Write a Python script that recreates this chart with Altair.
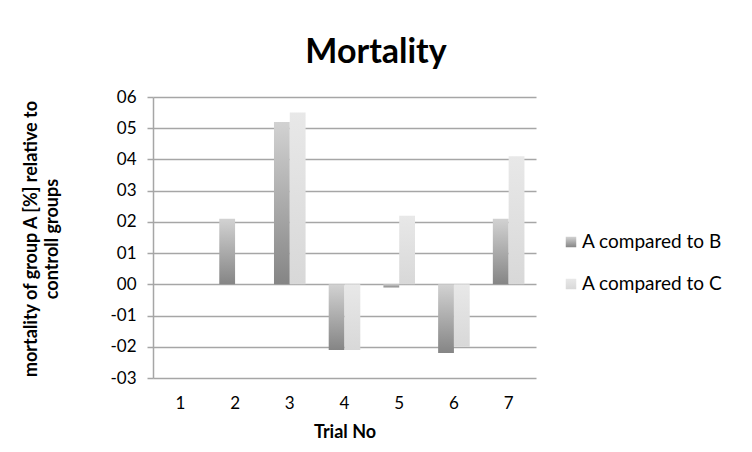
import altair as alt
import pandas as pd

# ---- data ----
trials = ["1", "2", "3", "4", "5", "6", "7"]
series_names = ["A compared to B", "A compared to C"]
vals_b = [0.0, 0.21, 0.52, -0.21, -0.01, -0.22, 0.21]
vals_c = [0.0, 0.0, 0.55, -0.21, 0.22, -0.20, 0.41]
y_ticks = [-0.3, -0.2, -0.1, 0.0, 0.1, 0.2, 0.3, 0.4, 0.5, 0.6]
title_text = "Mortality"
x_title = "Trial No"
y_title_lines = ["mortality of group A [%] relative to", "controll groups"]

FONT = "Lato"
GRID = "#a6a6a6"

grad_b = alt.Gradient(gradient="linear", x1=0, x2=0, y1=0, y2=1,
                      stops=[alt.GradientStop(color="#d2d2d2", offset=0),
                             alt.GradientStop(color="#858585", offset=1)])
grad_c = alt.Gradient(gradient="linear", x1=0, x2=0, y1=0, y2=1,
                      stops=[alt.GradientStop(color="#e8e8e8", offset=0),
                             alt.GradientStop(color="#d8d8d8", offset=1)])

df_b = pd.DataFrame({"trial": trials, "value": vals_b})
df_c = pd.DataFrame({"trial": trials, "value": vals_c})

W, H = 383, 281
BW = 15.8

x_enc = alt.X("trial:N", sort=trials,
              scale=alt.Scale(paddingInner=0, paddingOuter=0),
              axis=alt.Axis(title=None, labelAngle=0, ticks=False, domain=False,
                            labelFont=FONT, labelFontSize=17, labelColor="#000",
                            labelPadding=17, grid=False))
y_enc = alt.Y("value:Q", scale=alt.Scale(domain=[-0.3, 0.6], nice=False, zero=False),
              axis=alt.Axis(title=None, values=y_ticks,
                            labelExpr="(datum.value < 0 ? '-' : '') + '0' + round(abs(datum.value) * 10)",
                            labelFont=FONT, labelFontSize=17, labelColor="#000",
                            labelPadding=11, tickSize=6, tickColor=GRID, tickWidth=1.5,
                            domainColor=GRID, domainWidth=1.5,
                            gridColor=GRID, gridWidth=1.5))

bars_b = alt.Chart(df_b).mark_bar(width=BW, xOffset=-BW / 2, color=grad_b).encode(
    x=x_enc, y=y_enc, y2=alt.datum(0))
bars_c = alt.Chart(df_c).mark_bar(width=BW, xOffset=BW / 2, color=grad_c).encode(
    x=x_enc, y=y_enc, y2=alt.datum(0))

title_mark = alt.Chart(pd.DataFrame({"t": [title_text]})).mark_text(
    font=FONT, fontSize=34, fontWeight="bold", color="#000", align="center",
    baseline="alphabetic").encode(text="t:N", x=alt.value(223), y=alt.value(-34))

xtitle_mark = alt.Chart(pd.DataFrame({"t": [x_title]})).mark_text(
    font=FONT, fontSize=18, fontWeight="bold", color="#000", align="center",
    baseline="alphabetic").encode(text="t:N", x=alt.value(192), y=alt.value(341))

ytitle1 = alt.Chart(pd.DataFrame({"t": [y_title_lines[0]]})).mark_text(
    font=FONT, fontSize=18, fontWeight="bold", color="#000", align="center",
    baseline="middle", angle=270).encode(text="t:N", x=alt.value(-121), y=alt.value(142))
ytitle2 = alt.Chart(pd.DataFrame({"t": [y_title_lines[1]]})).mark_text(
    font=FONT, fontSize=18, fontWeight="bold", color="#000", align="center",
    baseline="middle", angle=270).encode(text="t:N", x=alt.value(-100), y=alt.value(142))

leg_sq_b = alt.Chart(pd.DataFrame({"s": [series_names[0]]})).mark_square(
    size=110, color=grad_b, opacity=1).encode(x=alt.value(418), y=alt.value(145))
leg_sq_c = alt.Chart(pd.DataFrame({"s": [series_names[1]]})).mark_square(
    size=110, color=grad_c, opacity=1).encode(x=alt.value(418), y=alt.value(187))
leg_tx_b = alt.Chart(pd.DataFrame({"s": [series_names[0]]})).mark_text(
    font=FONT, fontSize=19, color="#000", align="left", baseline="middle").encode(
    text="s:N", x=alt.value(429), y=alt.value(145))
leg_tx_c = alt.Chart(pd.DataFrame({"s": [series_names[1]]})).mark_text(
    font=FONT, fontSize=19, color="#000", align="left", baseline="middle").encode(
    text="s:N", x=alt.value(429), y=alt.value(187))

chart = alt.layer(bars_b, bars_c, title_mark, xtitle_mark, ytitle1, ytitle2,
                  leg_sq_b, leg_sq_c, leg_tx_b, leg_tx_c).properties(
    width=W, height=H,
    autosize=alt.AutoSizeParams(type="none"),
    padding={"left": 145, "top": 89, "right": 208, "bottom": 66},
    background="white",
).configure_view(stroke=None)

chart.save("out.html", embed_options={"renderer": "svg", "actions": False})
